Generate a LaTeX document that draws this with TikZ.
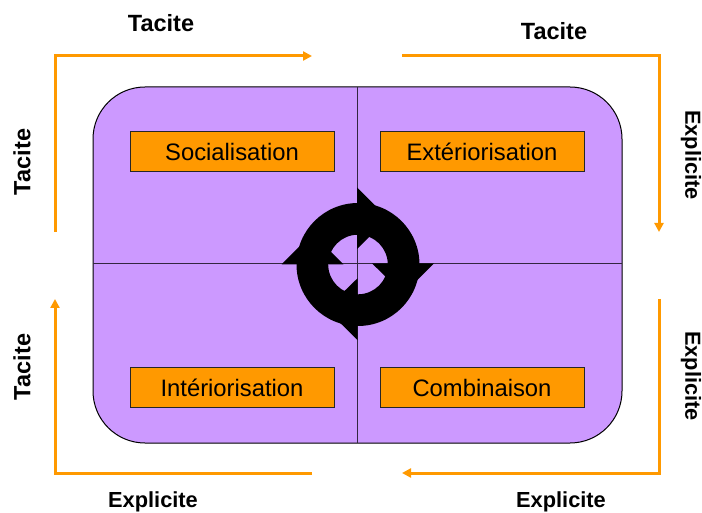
\documentclass[tikz,border=0pt]{standalone}
\usepackage{fontspec}
\setmainfont{Liberation Sans}
\usetikzlibrary{arrows.meta}
\definecolor{violetfond}{HTML}{CC99FF}
\definecolor{orangeboite}{HTML}{FF9900}
\tikzset{
  x=1pt,y=-1pt,
  panel/.style={draw=black,line width=1pt,fill=violetfond,rounded corners=52pt},
  divider/.style={draw=black!75!violetfond,line width=1pt},
  modebox/.style={draw=black!85,line width=1pt,fill=orangeboite,minimum width=204pt,minimum height=40pt,inner sep=0pt,font=\fontsize{23.8}{27}\selectfont},
  flow/.style={draw=orangeboite,line width=3pt,line join=miter,-{Triangle[length=9pt,width=9pt]}},
  axis/.style={inner sep=0pt,font=\fontsize{23.5}{27}\selectfont\bfseries},
  axisx/.style={inner sep=0pt,font=\fontsize{21.8}{26}\selectfont\bfseries},
}
\begin{document}
\begin{tikzpicture}
\useasboundingbox (0,0) rectangle (702,513);
\fill[white] (0,0) rectangle (702,513);
\draw[panel] (93,87) rectangle (622,443);
\coordinate (vt) at (357,87); \coordinate (vb) at (357,443);
\coordinate (hl) at (93,264); \coordinate (hr) at (622,264);
\draw[divider] (vt) -- (vb);
\draw[divider] (hl) -- (hr);
\node[modebox] (soc) at (232,152) {Socialisation};
\node[modebox] (ext) at (482,152) {Extériorisation};
\node[modebox] (int) at (232,387.5) {Intériorisation};
\node[modebox] (com) at (482,387.5) {Combinaison};
% cycle
\fill[black,even odd rule] (358,264.5) circle[radius=61.5] (358,264.5) circle[radius=29.8];
\fill[black] (357,187.3) -- (357,249) -- (388,218.3) -- cycle;
\fill[black] (434,263.3) -- (372,263.3) -- (403.3,294.3) -- cycle;
\fill[black] (357.5,340) -- (357.5,278.3) -- (326,309) -- cycle;
\fill[black] (281.7,264.3) -- (343.3,264.3) -- (312.3,233.3) -- cycle;
% flows
\coordinate (a1) at (55,232); \coordinate (a2) at (55,56); \coordinate (a3) at (312,56);
\coordinate (b1) at (402,56); \coordinate (b2) at (659,56); \coordinate (b3) at (659,232);
\coordinate (c1) at (659,299); \coordinate (c2) at (659,473); \coordinate (c3) at (402,473);
\coordinate (d1) at (312,473); \coordinate (d2) at (55,473); \coordinate (d3) at (55,299);
\draw[flow] (a1) -- (a2) -- (a3);
\draw[flow] (b1) -- (b2) -- (b3);
\draw[flow] (c1) -- (c2) -- (c3);
\draw[flow] (d1) -- (d2) -- (d3);
% labels
\node[axis] (t1) at (161,23.5) {Tacite};
\node[axis] (t2) at (554,31.5) {Tacite};
\node[axis,rotate=90] (t3) at (22,162) {Tacite};
\node[axis,rotate=90] (t4) at (22,367) {Tacite};
\node[axisx,rotate=-90] (e1) at (691,155) {Explicite};
\node[axisx,rotate=-90] (e2) at (691,376) {Explicite};
\node[axisx] (e3) at (153,502) {Explicite};
\node[axisx] (e4) at (561,502) {Explicite};
\end{tikzpicture}
\end{document}
